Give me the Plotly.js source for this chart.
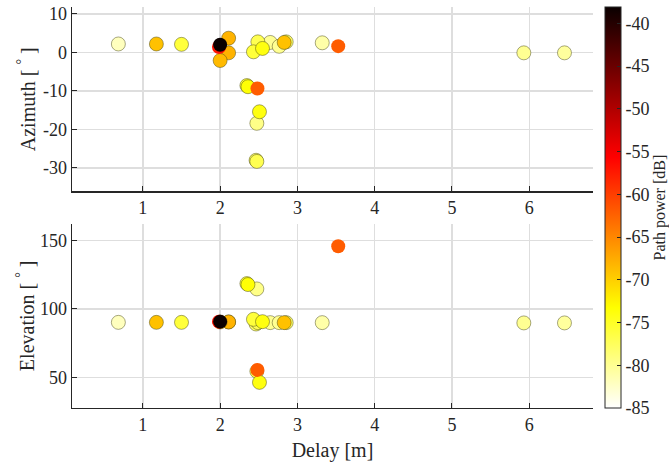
<!DOCTYPE html>
<html><head><meta charset="utf-8">
<script src="https://cdn.plot.ly/plotly-3.0.1.min.js"></script>
<style>html,body{margin:0;padding:0;background:#fff}#chart{width:669px;height:463px}</style>
</head><body><div id="chart"></div>
<script>
// Path data (listed weakest to strongest so strong paths are drawn on top)
const delay     = [0.683, 3.321, 6.456, 5.930, 2.648, 2.764, 2.475, 2.855, 2.465, 2.475, 2.488, 2.431, 1.500, 2.346, 2.360, 2.509, 2.548, 1.175, 2.829, 2.110, 2.110, 2.000, 2.483, 3.528, 1.985, 2.000];
const azimuth   = [2.2,   2.5,   -0.1,  -0.1,  2.6,   1.6,   -18.4, 2.75,  -28.0, -28.3, 2.75,  0.16,  2.1,   -8.6,  -8.9,  -15.4, 1.04,  2.2,   2.6,   3.7,   -0.1,  -2.1,  -9.35, 1.64,  1.4,   2.0];
const elevation = [90.2,  90.0,  89.8,  89.8,  90.0,  90.0,  114.6, 90.0,  89.0,  54.5,  90.0,  92.4,  90.2,  118.5, 117.8, 46.4,  90.7,  90.2,  90.0,  90.5,  90.5,  90.5,  55.5,  145.7, 90.7,  90.7];
const power     = [-82,   -81,   -80.5, -80,   -80,   -80,   -79.5, -78,   -78,   -77,   -77,   -76,   -76,   -76,   -73.5, -74,   -74,   -69,   -69,   -68,   -68,   -68.5, -62,   -62,   -57,   -38.1];

const powerRange = [-85, -38.1];
const xTicks  = [1, 2, 3, 4, 5, 6];
const azTicks = [-30, -20, -10, 0, 10];
const azTickText = ['-30', '-20', '-10', '0', '10'];
const elTicks = [50, 100, 150];
const cbTicks = [-85, -80, -75, -70, -65, -60, -55, -50, -45, -40];
const cbTickText = ['-85', '-80', '-75', '-70', '-65', '-60', '-55', '-50', '-45', '-40'];

// flipped MATLAB "hot" colormap
const hotReversed = [
  [0, 'rgb(255,255,255)'],
  [0.25, 'rgb(255,255,0)'],
  [0.625, 'rgb(255,0,0)'],
  [1, 'rgb(10,0,0)']
];

const FONT = 'Liberation Serif, Times New Roman, serif';
const INK = '#262626';

const edgeWidth = power.map(p => p > -65 ? 0 : 0.8);

function markerSpec(showScale) {
  return {
    size: 14,
    color: power,
    cmin: powerRange[0],
    cmax: powerRange[1],
    colorscale: hotReversed,
    showscale: showScale,
    line: {color: 'rgba(70,70,20,0.6)', width: edgeWidth},
    opacity: 1,
    colorbar: showScale ? {
      x: 1.023, xanchor: 'left', y: 0.5, yanchor: 'middle',
      len: 1, lenmode: 'fraction',
      thickness: 16, thicknessmode: 'pixels',
      outlinewidth: 1, outlinecolor: INK,
      ticks: 'inside', ticklen: 4, tickcolor: INK,
      tickvals: cbTicks, ticktext: cbTickText,
      tickfont: {family: FONT, size: 18, color: INK},
      ypad: 0, xpad: 0
    } : undefined
  };
}

const traces = [
  {type: 'scatter', mode: 'markers', x: delay, y: azimuth, xaxis: 'x', yaxis: 'y',
   marker: markerSpec(true), hoverinfo: 'x+y'},
  {type: 'scatter', mode: 'markers', x: delay, y: elevation, xaxis: 'x2', yaxis: 'y2',
   marker: markerSpec(false), hoverinfo: 'x+y'}
];

function axisBase() {
  return {
    showline: true, linecolor: INK, linewidth: 1.3,
    ticks: 'inside', ticklen: 5, tickcolor: INK, tickwidth: 1,
    showgrid: true, gridcolor: '#dedede', gridwidth: 1.5,
    zeroline: false, mirror: false,
    tickfont: {family: FONT, size: 18, color: INK}
  };
}

const xRange = [0.083, 6.825];

const layout = {
  width: 669, height: 463,
  paper_bgcolor: '#fff', plot_bgcolor: '#fff',
  showlegend: false,
  margin: {l: 72, r: 76, t: 7, b: 55, autoexpand: false},
  font: {family: FONT, color: INK},
  xaxis: Object.assign(axisBase(), {domain: [0, 1], anchor: 'y', range: xRange, tickvals: xTicks}),
  yaxis: Object.assign(axisBase(), {domain: [0.540, 1], anchor: 'x', range: [-36.1, 11.8],
    tickvals: azTicks, ticktext: azTickText,
    title: {text: 'Azimuth [ <sup>°</sup> ]', font: {family: FONT, size: 20, color: INK}, standoff: 2}}),
  xaxis2: Object.assign(axisBase(), {domain: [0, 1], anchor: 'y2', range: xRange, tickvals: xTicks,
    title: {text: 'Delay [m]', font: {family: FONT, size: 20, color: INK}, standoff: 9}}),
  yaxis2: Object.assign(axisBase(), {domain: [0, 0.4596], anchor: 'x2', range: [27.7, 162.2], tickvals: elTicks,
    title: {text: 'Elevation [ <sup>°</sup> ]', font: {family: FONT, size: 20, color: INK}, standoff: 0}}),
  annotations: [{
    text: 'Path power [dB]', textangle: -90, showarrow: false,
    xref: 'paper', yref: 'paper', x: (659 - 72) / 521, y: 0.5,
    xanchor: 'center', yanchor: 'middle',
    font: {family: FONT, size: 16, color: INK}
  }]
};

Plotly.newPlot('chart', traces, layout, {staticPlot: true, displayModeBar: false});
</script>
</body></html>
